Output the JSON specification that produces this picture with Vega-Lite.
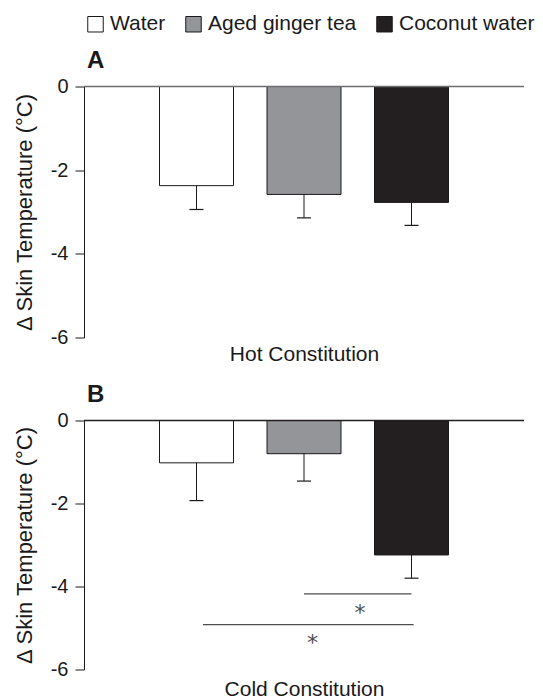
{
  "$schema": "https://vega.github.io/schema/vega-lite/v6.json",
  "padding": {"left": 13, "top": 13.5, "right": 5, "bottom": 2},
  "config": {
    "font": "Liberation Sans",
    "view": {"stroke": null},
    "axisY": {"domainColor": "#1a1a1a", "tickColor": "#1a1a1a", "tickSize": 9, "labelFontSize": 20, "labelColor": "#1a1a1a", "labelPadding": 7, "titleFontSize": 22, "titleFontWeight": "normal", "titleColor": "#1a1a1a", "titlePadding": 14, "grid": false},
    "axisX": {"domain": false, "ticks": false, "labels": false, "grid": false, "titleFontSize": 21, "titleFontWeight": "normal", "titleColor": "#1a1a1a", "titlePadding": 6},
    "title": {"anchor": "start", "frame": "group", "fontSize": 24, "fontWeight": "bold", "color": "#1a1a1a", "offset": 4, "dx": 3}
  },
  "datasets": {
    "bars": [
      {"panel": "A", "drink": "Water", "pos": 1, "mean": -2.37, "lo": -2.94},
      {"panel": "A", "drink": "Aged ginger tea", "pos": 2, "mean": -2.58, "lo": -3.14},
      {"panel": "A", "drink": "Coconut water", "pos": 3, "mean": -2.77, "lo": -3.32},
      {"panel": "B", "drink": "Water", "pos": 1, "mean": -1.02, "lo": -1.93},
      {"panel": "B", "drink": "Aged ginger tea", "pos": 2, "mean": -0.8, "lo": -1.46},
      {"panel": "B", "drink": "Coconut water", "pos": 3, "mean": -3.24, "lo": -3.8}
    ],
    "sig": [
      {"x1": 2.0, "x2": 3.0, "y": -4.18, "sx": 2.52, "sy": -4.64},
      {"x1": 1.06, "x2": 3.02, "y": -4.92, "sx": 2.08, "sy": -5.37}
    ],
    "zero": [{"z": 0}]
  },
  "spacing": 18,
  "vconcat": [
    {
      "title": {"text": "A"},
      "width": 440,
      "height": 251,
      "layer": [
        {
          "data": {"name": "bars"},
          "transform": [{"filter": "datum.panel === 'A'"}],
          "mark": {"type": "bar", "orient": "vertical", "width": 74, "stroke": "#1a1a1a", "strokeWidth": 1},
          "encoding": {
            "x": {"field": "pos", "type": "quantitative", "scale": {"domain": [0, 4]}, "axis": {"title": "Hot Constitution"}},
            "y": {"field": "mean", "type": "quantitative", "scale": {"domain": [-6, 0]}, "axis": {"title": "Δ Skin Temperature (°C)", "values": [0, -2, -4, -6], "labelExpr": "datum.value == 0 ? '0' : '-' + abs(datum.value)"}},
            "color": {"field": "drink", "type": "nominal", "scale": {"domain": ["Water", "Aged ginger tea", "Coconut water"], "range": ["#ffffff", "#939598", "#231f20"]},
              "legend": {"title": null, "orient": "none", "direction": "horizontal", "legendX": 1, "legendY": -73, "symbolType": "square", "symbolSize": 240, "symbolStrokeColor": "#1a1a1a", "symbolStrokeWidth": 1, "symbolOpacity": 1, "labelFontSize": 21, "labelColor": "#1a1a1a", "labelOffset": 4, "columnPadding": 17, "padding": 0}}
          }
        },
        {
          "data": {"name": "zero"},
          "mark": {"type": "rule", "color": "#6d6e71", "strokeWidth": 1.5},
          "encoding": {
            "y": {"field": "z", "type": "quantitative", "scale": {"domain": [-6, 0]}, "title": "Δ Skin Temperature (°C)"}
          }
        },
        {
          "data": {"name": "bars"},
          "transform": [{"filter": "datum.panel === 'A'"}],
          "mark": {"type": "rule", "color": "#1a1a1a", "strokeWidth": 1},
          "encoding": {
            "x": {"field": "pos", "type": "quantitative", "scale": {"domain": [0, 4]}, "title": "Hot Constitution"},
            "y": {"field": "mean", "type": "quantitative", "scale": {"domain": [-6, 0]}, "title": "Δ Skin Temperature (°C)"},
            "y2": {"field": "lo"}
          }
        },
        {
          "data": {"name": "bars"},
          "transform": [{"filter": "datum.panel === 'A'"}],
          "mark": {"type": "tick", "orient": "horizontal", "size": 14, "thickness": 1.2, "color": "#1a1a1a", "opacity": 1},
          "encoding": {
            "x": {"field": "pos", "type": "quantitative", "scale": {"domain": [0, 4]}, "title": "Hot Constitution"},
            "y": {"field": "lo", "type": "quantitative", "scale": {"domain": [-6, 0]}, "title": "Δ Skin Temperature (°C)"}
          }
        }
      ]
    },
    {
      "title": {"text": "B"},
      "width": 440,
      "height": 249,
      "layer": [
        {
          "data": {"name": "bars"},
          "transform": [{"filter": "datum.panel === 'B'"}],
          "mark": {"type": "bar", "orient": "vertical", "width": 74, "stroke": "#1a1a1a", "strokeWidth": 1},
          "encoding": {
            "x": {"field": "pos", "type": "quantitative", "scale": {"domain": [0, 4]}, "axis": {"title": "Cold Constitution", "titlePadding": 9}},
            "y": {"field": "mean", "type": "quantitative", "scale": {"domain": [-6, 0]}, "axis": {"title": "Δ Skin Temperature (°C)", "values": [0, -2, -4, -6], "labelExpr": "datum.value == 0 ? '0' : '-' + abs(datum.value)"}},
            "color": {"field": "drink", "type": "nominal", "scale": {"domain": ["Water", "Aged ginger tea", "Coconut water"], "range": ["#ffffff", "#939598", "#231f20"]}}
          }
        },
        {
          "data": {"name": "zero"},
          "mark": {"type": "rule", "color": "#231f20", "strokeWidth": 1.5},
          "encoding": {
            "y": {"field": "z", "type": "quantitative", "scale": {"domain": [-6, 0]}, "title": "Δ Skin Temperature (°C)"}
          }
        },
        {
          "data": {"name": "bars"},
          "transform": [{"filter": "datum.panel === 'B'"}],
          "mark": {"type": "rule", "color": "#1a1a1a", "strokeWidth": 1},
          "encoding": {
            "x": {"field": "pos", "type": "quantitative", "scale": {"domain": [0, 4]}, "title": "Cold Constitution"},
            "y": {"field": "mean", "type": "quantitative", "scale": {"domain": [-6, 0]}, "title": "Δ Skin Temperature (°C)"},
            "y2": {"field": "lo"}
          }
        },
        {
          "data": {"name": "bars"},
          "transform": [{"filter": "datum.panel === 'B'"}],
          "mark": {"type": "tick", "orient": "horizontal", "size": 14, "thickness": 1.2, "color": "#1a1a1a", "opacity": 1},
          "encoding": {
            "x": {"field": "pos", "type": "quantitative", "scale": {"domain": [0, 4]}, "title": "Cold Constitution"},
            "y": {"field": "lo", "type": "quantitative", "scale": {"domain": [-6, 0]}, "title": "Δ Skin Temperature (°C)"}
          }
        },
        {
          "data": {"name": "sig"},
          "mark": {"type": "rule", "color": "#4d4d4f", "strokeWidth": 1.3},
          "encoding": {
            "x": {"field": "x1", "type": "quantitative", "scale": {"domain": [0, 4]}, "title": "Cold Constitution"},
            "x2": {"field": "x2"},
            "y": {"field": "y", "type": "quantitative", "scale": {"domain": [-6, 0]}, "title": "Δ Skin Temperature (°C)"}
          }
        },
        {
          "data": {"name": "sig"},
          "mark": {"type": "text", "text": "*", "font": "DejaVu Sans", "fontSize": 22, "color": "#4d4d4f", "baseline": "middle", "align": "center"},
          "encoding": {
            "x": {"field": "sx", "type": "quantitative", "scale": {"domain": [0, 4]}, "title": "Cold Constitution"},
            "y": {"field": "sy", "type": "quantitative", "scale": {"domain": [-6, 0]}, "title": "Δ Skin Temperature (°C)"}
          }
        }
      ]
    }
  ]
}
